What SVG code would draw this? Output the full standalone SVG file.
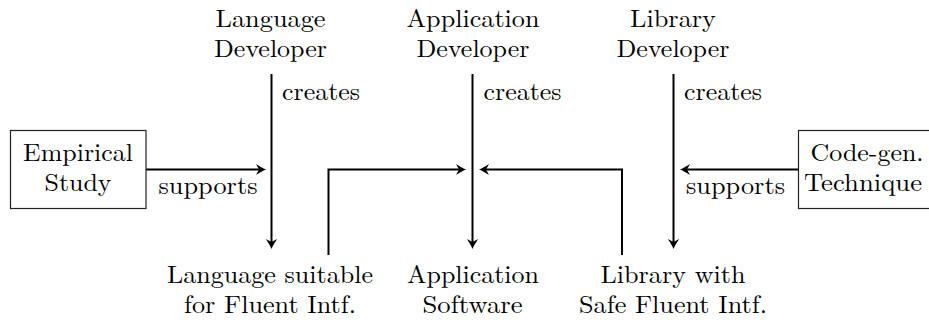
<svg xmlns="http://www.w3.org/2000/svg" width="929" height="320" viewBox="0 0 929 320">
  <defs>
    <style>
      text { font-family: 'Latin Modern Roman', 'Liberation Serif', serif; font-size: 25px; fill: #000; text-anchor: middle; }
      .box { fill: #fff; stroke: #222; stroke-width: 1.2; }
      .edge { fill: none; stroke: #000; stroke-width: 2; marker-end: url(#head); }
    </style>
    <!-- stealth-style arrowhead; the line stops 3px short of the tip -->
    <marker id="head" markerUnits="userSpaceOnUse" viewBox="-11 -7 13 14" markerWidth="13" markerHeight="14" refX="-3" refY="0" orient="auto">
      <path d="M0,0 C-3,-1.2 -7,-3.6 -10,-5.6 L-7,0 L-10,5.6 C-7,3.6 -3,1.2 0,0 Z" fill="#000"/>
    </marker>
  </defs>

  <g id="connectors">
    <!-- "creates" arrows -->
    <line class="edge" x1="271.5" y1="74" x2="271.5" y2="246"/>
    <line class="edge" x1="472.5" y1="74" x2="472.5" y2="246"/>
    <line class="edge" x1="673.5" y1="74" x2="673.5" y2="246"/>
    <!-- "supports" arrows -->
    <line class="edge" x1="146" y1="169.5" x2="263" y2="169.5"/>
    <line class="edge" x1="798" y1="169.5" x2="683" y2="169.5"/>
    <!-- feeds into the application -->
    <polyline class="edge" points="328.5,255 328.5,169.5 463,169.5"/>
    <polyline class="edge" points="622,255 622,169.5 482,169.5"/>
    <text x="321" y="100" textLength="78" lengthAdjust="spacingAndGlyphs">creates</text>
    <text x="522.5" y="100" textLength="78" lengthAdjust="spacingAndGlyphs">creates</text>
    <text x="723" y="100" textLength="78" lengthAdjust="spacingAndGlyphs">creates</text>
    <text x="208" y="194" textLength="99" lengthAdjust="spacingAndGlyphs">supports</text>
    <text x="735.5" y="194" textLength="99" lengthAdjust="spacingAndGlyphs">supports</text>
  </g>

  <g id="language-developer">
    <text x="270.5" y="27" textLength="110" lengthAdjust="spacingAndGlyphs">Language</text>
    <text x="270.5" y="57" textLength="113" lengthAdjust="spacingAndGlyphs">Developer</text>
  </g>
  <g id="application-developer">
    <text x="473" y="27" textLength="133" lengthAdjust="spacingAndGlyphs">Application</text>
    <text x="473" y="57" textLength="113" lengthAdjust="spacingAndGlyphs">Developer</text>
  </g>
  <g id="library-developer">
    <text x="673" y="27" textLength="86" lengthAdjust="spacingAndGlyphs">Library</text>
    <text x="673" y="57" textLength="113" lengthAdjust="spacingAndGlyphs">Developer</text>
  </g>

  <g id="empirical-study">
    <rect class="box" x="10.5" y="130.5" width="135.5" height="78"/>
    <text x="78" y="161" textLength="110" lengthAdjust="spacingAndGlyphs">Empirical</text>
    <text x="78" y="191" textLength="67" lengthAdjust="spacingAndGlyphs">Study</text>
  </g>
  <g id="codegen-technique">
    <rect class="box" x="798.5" y="130.5" width="136" height="78"/>
    <text x="867" y="161" textLength="113" lengthAdjust="spacingAndGlyphs">Code-gen.</text>
    <text x="863" y="191" textLength="118" lengthAdjust="spacingAndGlyphs">Technique</text>
  </g>

  <g id="fluent-language">
    <text x="270" y="283" textLength="206" lengthAdjust="spacingAndGlyphs">Language suitable</text>
    <text x="270" y="313" textLength="172" lengthAdjust="spacingAndGlyphs">for Fluent Intf.</text>
  </g>
  <g id="application-software">
    <text x="473" y="283" textLength="132" lengthAdjust="spacingAndGlyphs">Application</text>
    <text x="472.5" y="313" textLength="100" lengthAdjust="spacingAndGlyphs">Software</text>
  </g>
  <g id="fluent-library">
    <text x="673" y="283" textLength="145" lengthAdjust="spacingAndGlyphs">Library with</text>
    <text x="673" y="313" textLength="188" lengthAdjust="spacingAndGlyphs">Safe Fluent Intf.</text>
  </g>
</svg>
